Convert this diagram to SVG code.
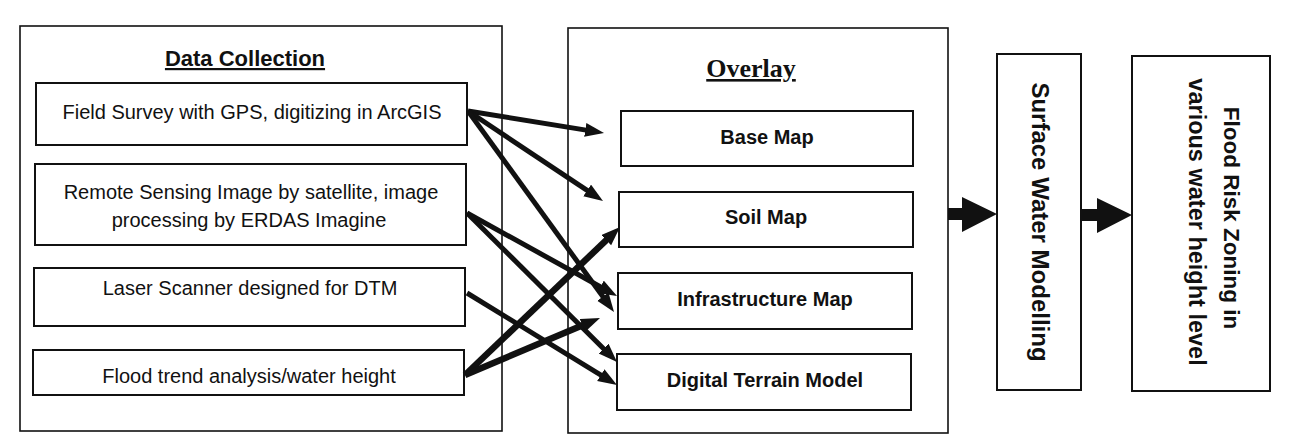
<svg xmlns="http://www.w3.org/2000/svg" width="1297" height="446" viewBox="0 0 1297 446">
<defs>
<style>
.outer{fill:none;stroke:#111;stroke-width:1.6}
.box{fill:#fff;stroke:#111;stroke-width:2}
.t{font-family:"Liberation Sans",Arial,sans-serif;font-size:20px;fill:#111;text-anchor:middle}
.b{font-weight:bold}
.ttl{font-family:"Liberation Sans",Arial,sans-serif;font-size:22px;font-weight:bold;fill:#111;text-anchor:middle;text-decoration:underline}
.ttl2{font-family:"Liberation Serif","Times New Roman",serif;font-size:26px;font-weight:bold;fill:#111;text-anchor:middle;text-decoration:underline}
.c{fill:none;stroke:#111;stroke-width:5;marker-end:url(#ah)}
.c2{fill:none;stroke:#111;stroke-width:6.5;marker-end:url(#ah)}
.big{fill:#111;stroke:none}
</style>
<marker id="ah" markerUnits="userSpaceOnUse" markerWidth="20" markerHeight="15" refX="4" refY="7" orient="auto">
<path d="M0,0 L19,7 L0,14 z" fill="#111"/>
</marker>
</defs>
<rect width="1297" height="446" fill="#fff"/>

<g id="data-collection">
<rect class="outer" x="20" y="26" width="482" height="405"/>
<text class="ttl" x="245" y="66">Data Collection</text>
</g>
<g id="field-survey">
<rect class="box" x="36" y="83" width="431" height="62"/>
<text class="t" x="252" y="119">Field Survey with GPS, digitizing in ArcGIS</text>
</g>
<g id="remote-sensing">
<rect class="box" x="35" y="164" width="431" height="81"/>
<text class="t" x="251" y="199">Remote Sensing Image by satellite, image</text>
<text class="t" x="249" y="227">processing by ERDAS Imagine</text>
</g>
<g id="laser-scanner">
<rect class="box" x="34" y="268" width="431" height="58"/>
<text class="t" x="250" y="295">Laser Scanner designed for DTM</text>
</g>
<g id="flood-trend">
<rect class="box" x="33" y="350" width="431" height="45"/>
<text class="t" x="249" y="383">Flood trend analysis/water height</text>
</g>

<g id="overlay">
<rect class="outer" x="568" y="28" width="380" height="405"/>
<text class="ttl2" x="751" y="77">Overlay</text>
</g>
<g id="base-map">
<rect class="box" x="621" y="111" width="292" height="55"/>
<text class="t b" x="767" y="144">Base Map</text>
</g>
<g id="soil-map">
<rect class="box" x="619" y="192" width="294" height="55"/>
<text class="t b" x="766" y="224">Soil Map</text>
</g>
<g id="infrastructure-map">
<rect class="box" x="618" y="273" width="294" height="56"/>
<text class="t b" x="765" y="306">Infrastructure Map</text>
</g>
<g id="digital-terrain-model">
<rect class="box" x="617" y="354" width="294" height="56"/>
<text class="t b" x="765" y="387">Digital Terrain Model</text>
</g>

<g id="surface-water-modelling">
<rect class="box" x="997" y="54" width="84" height="336"/>
<text class="t b" style="font-size:24px" transform="translate(1032,222) rotate(90)">Surface Water Modelling</text>
</g>
<g id="flood-risk-zoning">
<rect class="box" x="1132" y="56" width="138" height="335"/>
<text class="t b" style="font-size:22.5px" transform="translate(1224,218) rotate(90)">Flood Risk Zoning in</text>
<text class="t b" style="font-size:23.5px" transform="translate(1189,222) rotate(90)">various water height level</text>
</g>

<g id="connectors">
<path class="c" d="M468,111 L589.2,130.6"/>
<path class="c" d="M468,111 L590.5,192.7"/>
<path class="c" d="M468,111 L605.2,299.9"/>
<path class="c" d="M467,213 L603.9,288.7"/>
<path class="c" d="M467,213 L606.4,351.4"/>
<path class="c" d="M467,293 L604.2,377.2"/>
<path class="c2" d="M465,375 L609.2,237.4"/>
<path class="c2" d="M465,375 L586.2,323.8"/>
<path class="big" d="M948,208 H962 V197 L997,214 L962,232 V220 H948 Z"/>
<path class="big" d="M1082,209 H1097 V198 L1132,215 L1097,233 V221 H1082 Z"/>
</g>
</svg>
